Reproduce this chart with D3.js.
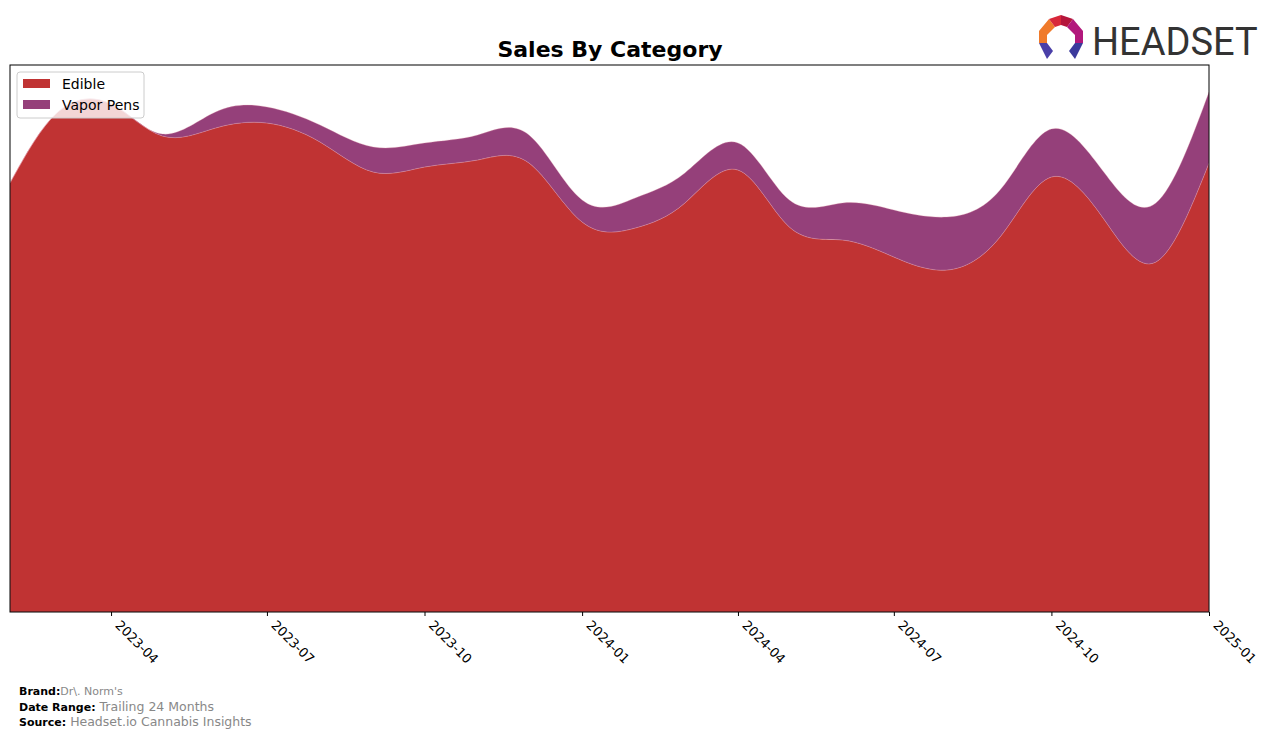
<!DOCTYPE html>
<html>
<head>
<meta charset="utf-8">
<script src="https://cdn.jsdelivr.net/npm/d3@7"></script>
<style>
  body { margin: 0; background: #fff; font-family: "DejaVu Sans", sans-serif; }
  svg { display: block; }
</style>
</head>
<body>
<div id="chart"></div>
<script>
var months = ['2023-02','2023-03','2023-04','2023-05','2023-06','2023-07','2023-08','2023-09',
  '2023-10','2023-11','2023-12','2024-01','2024-02','2024-03','2024-04','2024-05','2024-06',
  '2024-07','2024-08','2024-09','2024-10','2024-11','2024-12','2025-01']
var edible = [429, 500, 508, 476, 484, 489, 470, 440, 445, 452, 449, 390,
  384, 409, 442, 385, 372, 355, 342, 375, 435, 392, 350, 449]
var vaporPens = [0, 0, 0, 2, 16, 16, 17, 25, 24, 25, 28, 22,
  30, 30, 27, 27, 37, 47, 53, 47, 48, 47, 59, 71]
var tickLabels = ['2023-04','2023-07','2023-10','2024-01','2024-04','2024-07','2024-10','2025-01']
var categories = ['Edible', 'Vapor Pens']
var colors = ['#c03333', '#95407a']

var parse = d3.utcParse('%Y-%m')
var rows = months.map(function(m, i){
  return {date: parse(m), 'Edible': edible[i], 'Vapor Pens': vaporPens[i]}
})

var W = 1276, H = 739
var m = {left: 10, right: 67, top: 65, bottom: 127}
var w = W - m.left - m.right, h = H - m.top - m.bottom

var svg = d3.select('#chart').append('svg').attr('width', W).attr('height', H)
var g = svg.append('g').attr('transform', 'translate(' + m.left + ',' + m.top + ')')

var x = d3.scaleUtc().domain(d3.extent(rows, function(d){ return d.date })).range([0, w])
var y = d3.scaleLinear().domain([0, 547]).range([h, 0])

var series = d3.stack().keys(categories)(rows)

var area = d3.area()
  .curve(d3.curveNatural)
  .x(function(d){ return x(d.data.date) })
  .y0(function(d){ return y(d[0]) })
  .y1(function(d){ return y(d[1]) })

g.append('clipPath').attr('id', 'clip')
  .append('rect').attr('width', w).attr('height', h)

g.append('g').attr('clip-path', 'url(#clip)')
  .selectAll('path').data(series).join('path')
  .attr('d', area)
  .attr('fill', function(d, i){ return colors[i] })
  .attr('stroke', '#e8a0b0')
  .attr('stroke-width', 0.5)
  .attr('stroke-opacity', 0.6)

// frame
g.append('rect').attr('width', w).attr('height', h)
  .attr('fill', 'none').attr('stroke', '#000').attr('stroke-width', 1)

// x axis
var xAxis = d3.axisBottom(x)
  .tickValues(tickLabels.map(parse))
  .tickFormat(d3.utcFormat('%Y-%m'))
  .tickSize(4)
var ax = g.append('g').attr('transform', 'translate(0,' + h + ')').call(xAxis)
ax.select('.domain').remove()
ax.selectAll('line').attr('stroke', '#000')
ax.selectAll('text')
  .attr('font-family', 'DejaVu Sans').attr('font-size', 13).attr('fill', '#000')
  .attr('text-anchor', 'start')
  .attr('dy', null).attr('y', 0)
  .attr('transform', 'translate(3,14) rotate(45)')

// title
svg.append('text').attr('x', 610).attr('y', 57)
  .attr('text-anchor', 'middle').attr('font-size', 22).attr('font-weight', 'bold')
  .text('Sales By Category')

// legend
var lg = svg.append('g').attr('transform', 'translate(17,72)')
lg.append('rect').attr('width', 127).attr('height', 46).attr('rx', 3)
  .attr('fill', '#fff').attr('fill-opacity', 0.8).attr('stroke', '#ccc')
categories.forEach(function(c, i){
  lg.append('rect').attr('x', 6).attr('y', 7 + i * 21).attr('width', 27).attr('height', 9)
    .attr('fill', colors[i])
  lg.append('text').attr('x', 45).attr('y', 17 + i * 21)
    .attr('font-size', 14).text(c)
})

// footer
var foot = [['Brand:', "Dr\\. Norm's", 11], ['Date Range:', 'Trailing 24 Months', 12.5], ['Source:', 'Headset.io Cannabis Insights', 12.5]]
foot.forEach(function(f, i){
  var t = svg.append('text').attr('x', 19).attr('y', 695 + i * 15.5)
  t.append('tspan').attr('font-size', 11).attr('font-weight', 'bold').text(f[0])
  t.append('tspan').attr('font-size', f[2]).attr('fill', '#888').attr('dx', i ? 4 : 0).text(f[1])
})

// logo
var logo = svg.append('g').attr('transform', 'translate(1061,37)')
var pieces = [
  {p: [[-22,-6],[-12,-18],[-6,-10],[-14,-2],[-14,6],[-22,6]], c: '#f07a2a'},
  {p: [[-12,-18],[0,-22],[0,-12],[-6,-10]], c: '#d8283a'},
  {p: [[0,-22],[12,-18],[6,-10],[0,-12]], c: '#b5163c'},
  {p: [[12,-18],[22,-6],[22,6],[14,6],[14,-2],[6,-10]], c: '#b2187c'},
  {p: [[-22,6],[-14,6],[-8,14],[-14,22]], c: '#4a3fa8'},
  {p: [[22,6],[14,6],[8,14],[14,22]], c: '#3b3a9c'}
]
pieces.forEach(function(d){
  logo.append('polygon').attr('points', d.p.join(' ')).attr('fill', d.c)
})
svg.append('text').attr('x', 1092).attr('y', 55)
  .attr('font-family', 'Roboto').attr('font-size', 38).attr('fill', '#333')
  .text('HEADSET')
</script>
</body>
</html>
